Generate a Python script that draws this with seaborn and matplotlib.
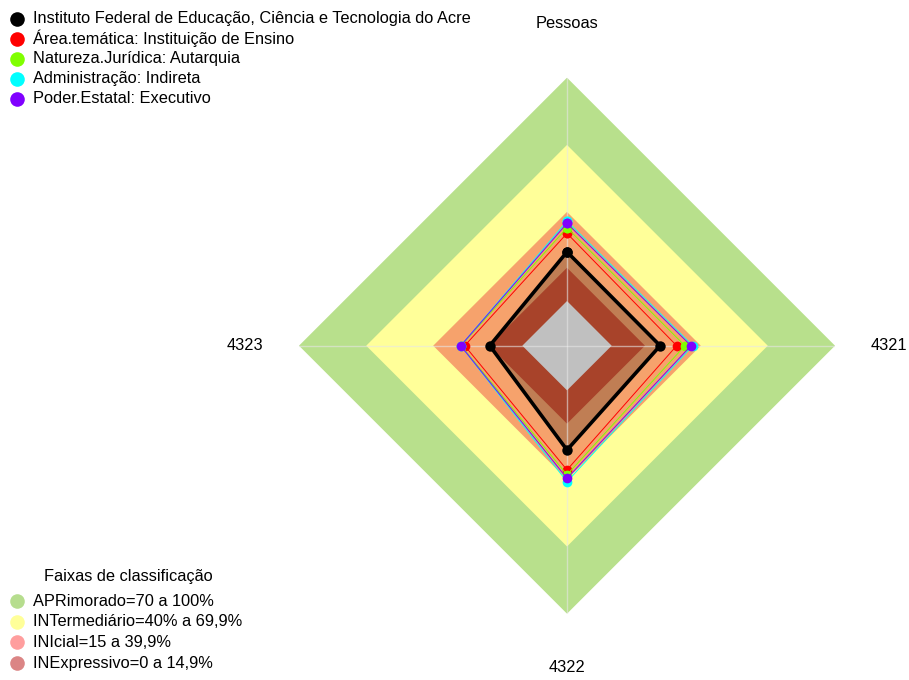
import numpy as np
import matplotlib
matplotlib.use("Agg")
import matplotlib.pyplot as plt
from matplotlib.lines import Line2D
import seaborn as sns

# Radar axes (clockwise from the top)
categories = ["Pessoas", "4321", "4322", "4323"]

# Series values (%) per axis
series_names = [
    "Instituto Federal de Educação, Ciência e Tecnologia do Acre",
    "Área.temática: Instituição de Ensino",
    "Natureza.Jurídica: Autarquia",
    "Administração: Indireta",
    "Poder.Estatal: Executivo",
]
instituto = [22.0, 21.7, 26.7, 14.6]
area_tematica = [30.3, 29.1, 35.6, 25.8]
natureza_juridica = [32.8, 32.8, 37.8, 27.4]
administracao = [35.8, 36.3, 40.9, 27.6]
poder_estatal = [34.8, 35.5, 39.4, 27.6]
series_values = [instituto, area_tematica, natureza_juridica, administracao, poder_estatal]
series_colors = ["#000000", "#FF0000", "#80FF00", "#00FFFF", "#8000FF"]

# Classification bands (upper limit of each band, %)
band_labels = [
    "APRimorado=70 a 100%",
    "INTermediário=40% a 69,9%",
    "INIcial=15 a 39,9%",
    "INExpressivo=0 a 14,9%",
]
band_limits = [100, 69.9, 39.9, 14.9]
band_fill = ["#B8E08C", "#FFFF99", "#F6A26C", "#A8432A"]
band_legend = ["#B6DD8E", "#FFFF99", "#FF9E9E", "#DB8585"]

R_MIN, R_MAX = -20, 100
FS = 11.8

sns.set_theme(style="white")
plt.rcParams["font.family"] = ["Liberation Sans", "DejaVu Sans"]

W, H = 909, 680
fig = plt.figure(figsize=(W / 100, H / 100), dpi=100)
fig.patch.set_facecolor("white")

cx, cy, rad = 567, 345.7, 268
ax = fig.add_axes([(cx - rad) / W, (H - cy - rad) / H, 2 * rad / W, 2 * rad / H],
                  projection="polar")
ax.set_theta_offset(np.pi / 2)
ax.set_theta_direction(-1)
ax.set_ylim(R_MIN, R_MAX)
ax.set_facecolor("none")
ax.grid(False)
ax.set_xticks([])
ax.set_yticks([])
ax.spines["polar"].set_visible(False)

n = len(categories)
theta = np.linspace(0, 2 * np.pi, n, endpoint=False)
theta_c = np.append(theta, theta[0])


def closed(vals):
    return np.append(vals, vals[0])


# Bands: outer to inner; the institution's shaded polygon sits under the inner band
for i, (lim, col) in enumerate(zip(band_limits, band_fill)):
    if i == 3:
        ax.fill(theta_c, closed(instituto), color="black", alpha=0.22, lw=0, zorder=1)
    ax.fill(theta_c, np.full(n + 1, lim), color=col, lw=0, zorder=1)
ax.fill(theta_c, np.full(n + 1, 0.0), color="#C0C0C0", lw=0, zorder=1)

# Axis spokes
for t in theta:
    ax.plot([t, t], [R_MIN, R_MAX], color="#E6E6E6", alpha=0.6, lw=1, zorder=2)

# Series
for k, (vals, col) in enumerate(zip(series_values, series_colors)):
    thick = k == 0
    sns.lineplot(x=theta_c, y=closed(vals), sort=False, estimator=None, ax=ax,
                 color=col, lw=2.6 if thick else 0.7, marker="o",
                 markersize=7.5 if thick else 7, markeredgewidth=0,
                 zorder=5 if thick else 4 + k * 0.1, legend=False)

# Axis labels
for t, lab in zip(theta, categories):
    ax.text(t, 124.2, lab, ha="center", va="center", fontsize=FS, color="black",
            clip_on=False)


def px(x, y):
    return x / W, 1 - y / H


# Series legend (top left)
for i, (name, col) in enumerate(zip(series_names, series_colors)):
    y = 18.5 + 20 * i
    fig.add_artist(Line2D([px(17, y)[0]], [px(17, y)[1]], marker="o", color=col,
                          markersize=10.5, markeredgewidth=0, transform=fig.transFigure))
    fig.text(*px(33, y), name, ha="left", va="center", fontsize=FS, color="black")

# Band legend (bottom left)
fig.text(*px(128, 577), "Faixas de classificação", ha="center", va="center",
         fontsize=FS, color="black")
for i, (lab, col) in enumerate(zip(band_labels, band_legend)):
    y = 601 + 20.7 * i
    fig.add_artist(Line2D([px(17, y)[0]], [px(17, y)[1]], marker="o", color=col,
                          markersize=10.5, markeredgewidth=0, transform=fig.transFigure))
    fig.text(*px(33, y), lab, ha="left", va="center", fontsize=FS, color="black")

fig.savefig("out.png", dpi=100, facecolor="white")
